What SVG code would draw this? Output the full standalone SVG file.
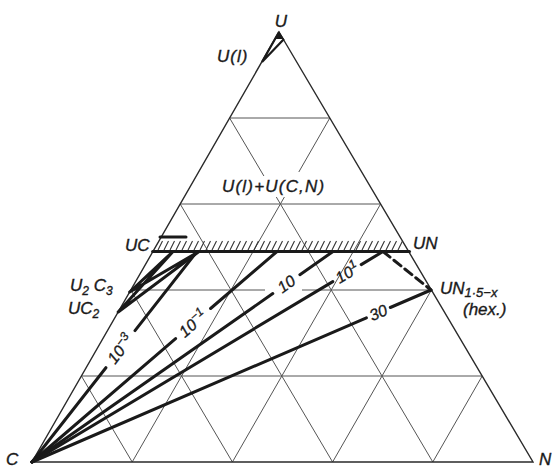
<svg xmlns="http://www.w3.org/2000/svg" width="555" height="470" viewBox="0 0 555 470">
<style>
.grid{stroke:#555;stroke-width:1;fill:none}
.edge{stroke:#2a2a2a;stroke-width:1.4;fill:none}
.tie{stroke:#1a1a1a;stroke-width:3;fill:none;stroke-linecap:round}
.hatch{stroke:#333;stroke-width:1.1;fill:none}
.lbl{font-family:"Liberation Sans",Arial,sans-serif;font-style:italic;font-size:17px;fill:#1a1a1a;stroke:#1a1a1a;stroke-width:0.35}
.num{font-family:"Liberation Sans",Arial,sans-serif;font-style:italic;font-size:16px;fill:#1a1a1a;stroke:#1a1a1a;stroke-width:0.3}
.sub{font-size:12px}
</style>
<rect width="555" height="470" fill="#fff"/>
<g id="grid" class="grid">
<path d="M229.6,118H329.8 M180.2,204H380.6 M130.8,290H265 M302,290H431.4 M81.4,376H482.2"/>
<path d="M229.6,118L263.9,176 M276.3,197L432.8,462 M180.2,204L332.6,462 M130.8,290L232.4,462 M81.4,376L132.2,462"/>
<path d="M329.8,118L298.8,172 M284.4,197L132.2,462 M380.6,204L232.4,462 M431.4,290L332.6,462 M482.2,376L432.8,462"/>
</g>
<g id="triangle">
<path class="edge" d="M279,32L533,462L32,462Z"/>
</g>
<g id="ul-region">
<polygon points="279,31 275.5,39 284,39" fill="#1a1a1a"/>
<path d="M279,32L262,62 M284,39L262,62" stroke="#1a1a1a" stroke-width="2.2" fill="none"/>
</g>
<g id="uc-un-band">
<path class="hatch" d="M158,250 l4.5,-9 m1.5,9 l4.5,-9 m1.5,9 l4.5,-9 m1.5,9 l4.5,-9 m1.5,9 l4.5,-9 m1.5,9 l4.5,-9 m1.5,9 l4.5,-9 m1.5,9 l4.5,-9 m1.5,9 l4.5,-9 m1.5,9 l4.5,-9 m1.5,9 l4.5,-9 m1.5,9 l4.5,-9 m1.5,9 l4.5,-9 m1.5,9 l4.5,-9 m1.5,9 l4.5,-9 m1.5,9 l4.5,-9 m1.5,9 l4.5,-9 m1.5,9 l4.5,-9 m1.5,9 l4.5,-9 m1.5,9 l4.5,-9 m1.5,9 l4.5,-9 m1.5,9 l4.5,-9 m1.5,9 l4.5,-9 m1.5,9 l4.5,-9 m1.5,9 l4.5,-9 m1.5,9 l4.5,-9 m1.5,9 l4.5,-9 m1.5,9 l4.5,-9 m1.5,9 l4.5,-9 m1.5,9 l4.5,-9 m1.5,9 l4.5,-9 m1.5,9 l4.5,-9 m1.5,9 l4.5,-9 m1.5,9 l4.5,-9 m1.5,9 l4.5,-9 m1.5,9 l4.5,-9 m1.5,9 l4.5,-9 m1.5,9 l4.5,-9 m1.5,9 l4.5,-9 m1.5,9 l4.5,-9 m1.5,9 l4.5,-9"/>
<path class="tie" d="M152.6,251.5H409.5"/>
<path class="tie" stroke-width="2.5" d="M160,237H186"/>
</g>
<g id="connectors">
<path class="tie" d="M118.2,312L173,251.5 M118.2,312L199,251.5 M129.7,292L173,251.5 M129.7,292L199,251.5"/>
<path class="tie" d="M32,462L105.9,367.7 M135,330.6L197,251.5"/>
<path class="tie" d="M32,462L175.6,338.6 M210.6,308.5L277,251.5"/>
<path class="tie" d="M32,462L272.8,293.6 M299.9,274.7L333,251.5"/>
<path class="tie" d="M32,462L332.8,281.6 M361.2,264.6L383,251.5"/>
<path class="tie" d="M32,462L366.4,317.9 M390.3,307.5L431,290"/>
<path class="tie" stroke-width="2.5" stroke-dasharray="9,5" stroke-linecap="butt" d="M383,251.5L431,290"/>
</g>
<g id="tie-labels" class="num" text-anchor="middle" dominant-baseline="central">
<text transform="translate(120.4,349.2) rotate(-51.9)">10<tspan font-size="12" dy="-5">−3</tspan></text>
<text transform="translate(193,323.7) rotate(-40.7)">10<tspan font-size="12" dy="-5">−1</tspan></text>
<text transform="translate(286.3,284.1) rotate(-35)">10</text>
<text transform="translate(347.2,273) rotate(-31)">10<tspan font-size="12" dy="-5">1</tspan></text>
<text transform="translate(378.3,312.7) rotate(-23.3)">30</text>
</g>
<g id="labels" class="lbl">
<text x="281" y="27" text-anchor="middle">U</text>
<text x="217" y="62" letter-spacing="1">U(l)</text>
<text x="222" y="192" letter-spacing="1.2">U(l)+U(C,N)</text>
<text x="125" y="251">UC</text>
<text x="413" y="249">UN</text>
<text x="70" y="291">U<tspan class="sub" dy="4">2</tspan><tspan dy="-4"> C</tspan><tspan class="sub" dy="4">3</tspan></text>
<text x="68" y="314">UC<tspan class="sub" dy="4">2</tspan></text>
<text x="440" y="294">UN<tspan font-size="13" dy="3">1·5−x</tspan></text>
<text x="463" y="315">(hex.)</text>
<text x="6" y="465">C</text>
<text x="539" y="465">N</text>
</g>
</svg>
